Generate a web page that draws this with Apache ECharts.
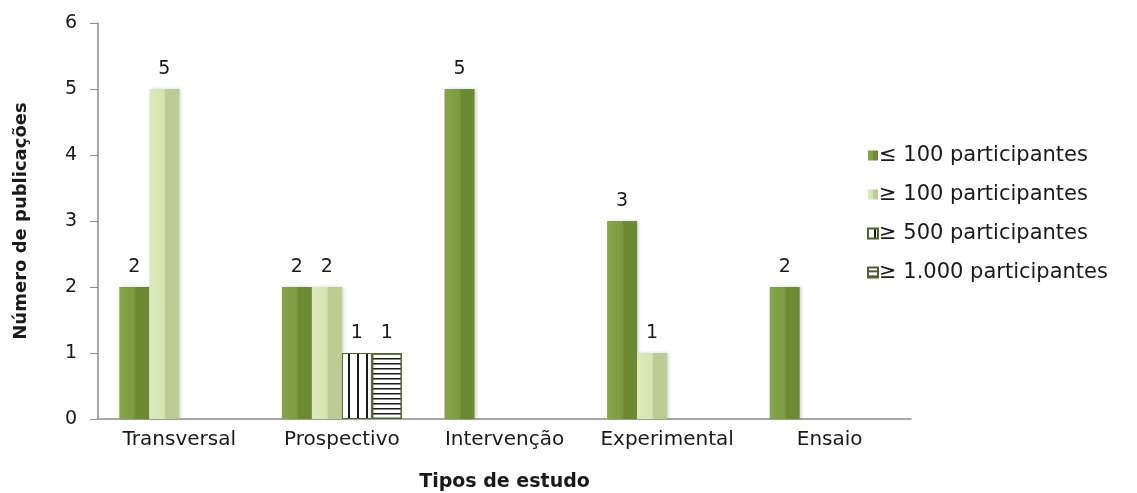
<!DOCTYPE html>
<html>
<head>
<meta charset="utf-8">
<script src="https://cdn.jsdelivr.net/npm/echarts@6/dist/echarts.min.js"></script>
<style>
  html, body { margin: 0; padding: 0; background: #fff; }
  #chart { width: 1137px; height: 493px; }
</style>
</head>
<body>
<div id="chart"></div>
<script>
var categories = ['Transversal', 'Prospectivo', 'Intervenção', 'Experimental', 'Ensaio'];
var seriesNames = ['≤ 100 participantes', '≥ 100 participantes', '≥ 500 participantes', '≥ 1.000 participantes'];
var upTo100 = [2, 2, 5, 3, 2];
var over100 = [5, 2, null, 1, null];
var over500 = [null, 1, null, null, null];
var over1000 = [null, 1, null, null, null];

var font = '"DejaVu Sans", "Liberation Sans", Arial, sans-serif';

// canvas fill for the striped bars
function stripes(vertical) {
  var c = document.createElement('canvas');
  c.width = vertical ? 9 : 4;
  c.height = vertical ? 4 : 5;
  var ctx = c.getContext('2d');
  ctx.fillStyle = '#fff';
  ctx.fillRect(0, 0, c.width, c.height);
  ctx.fillStyle = '#1a1a1a';
  if (vertical) {
    ctx.fillRect(6, 0, 2, c.height);
  } else {
    ctx.fillRect(0, 3, c.width, 1.5);
  }
  return { image: c, repeat: 'repeat' };
}

function bevel(left, mid, right) {
  return {
    type: 'linear', x: 0, y: 0, x2: 1, y2: 0,
    colorStops: [
      { offset: 0, color: left },
      { offset: 0.5, color: mid },
      { offset: 0.55, color: right },
      { offset: 1, color: right }
    ]
  };
}

var label = {
  show: true,
  position: 'top',
  distance: 10,
  color: '#1a1a1a',
  fontSize: 19,
  fontFamily: font
};

var chart = echarts.init(document.getElementById('chart'));
chart.setOption({
  animation: false,
  grid: { left: 98, right: 226, top: 23, bottom: 74, outerBoundsMode: 'none' },
  legend: {
    orient: 'vertical',
    left: 862,
    top: 140,
    itemWidth: 10,
    itemHeight: 10,
    itemGap: 18,
    icon: 'rect',
    textStyle: { fontSize: 21, lineHeight: 20, color: '#1a1a1a', fontFamily: font, padding: [0, 0, 0, -4] },
    data: seriesNames
  },
  xAxis: {
    type: 'category',
    data: categories,
    name: 'Tipos de estudo',
    nameLocation: 'middle',
    nameGap: 54,
    nameTextStyle: { fontSize: 19, fontWeight: 'bold', color: '#1a1a1a', fontFamily: font },
    axisLine: { lineStyle: { color: '#8c8c8c', width: 1.5 } },
    axisTick: { length: 6, lineStyle: { color: '#8c8c8c' } },
    axisLabel: { interval: 0, fontSize: 20, color: '#1a1a1a', fontFamily: font, margin: 11 }
  },
  yAxis: {
    type: 'value',
    min: 0,
    max: 6,
    interval: 1,
    name: 'Número de publicações',
    nameLocation: 'middle',
    nameGap: 68,
    nameTextStyle: { fontSize: 18, fontWeight: 'bold', color: '#1a1a1a', fontFamily: font },
    axisLine: { show: true, lineStyle: { color: '#8c8c8c', width: 1.5 } },
    axisTick: { show: true, length: 8, lineStyle: { color: '#8c8c8c' } },
    splitLine: { show: false },
    axisLabel: { fontSize: 19, color: '#1a1a1a', fontFamily: font, margin: 21 }
  },
  series: [
    {
      name: seriesNames[0],
      type: 'bar',
      data: upTo100,
      barWidth: 30,
      barGap: '0%',
      label: label,
      itemStyle: {
        color: bevel('#86a548', '#7d9c40', '#6c8a31'),
        shadowColor: 'rgba(0,0,0,0.18)', shadowBlur: 3, shadowOffsetX: 2
      }
    },
    {
      name: seriesNames[1],
      type: 'bar',
      data: over100,
      barWidth: 30,
      label: label,
      itemStyle: {
        color: bevel('#dde9bd', '#d5e3b0', '#bccc95'),
        shadowColor: 'rgba(0,0,0,0.18)', shadowBlur: 3, shadowOffsetX: 2
      }
    },
    {
      name: seriesNames[2],
      type: 'bar',
      data: over500,
      barWidth: 30,
      label: label,
      itemStyle: { color: stripes(true), borderColor: '#4f6228', borderWidth: 1 }
    },
    {
      name: seriesNames[3],
      type: 'bar',
      data: over1000,
      barWidth: 30,
      label: label,
      itemStyle: { color: stripes(false), borderColor: '#4f6228', borderWidth: 1.5 }
    }
  ]
});
</script>
</body>
</html>
